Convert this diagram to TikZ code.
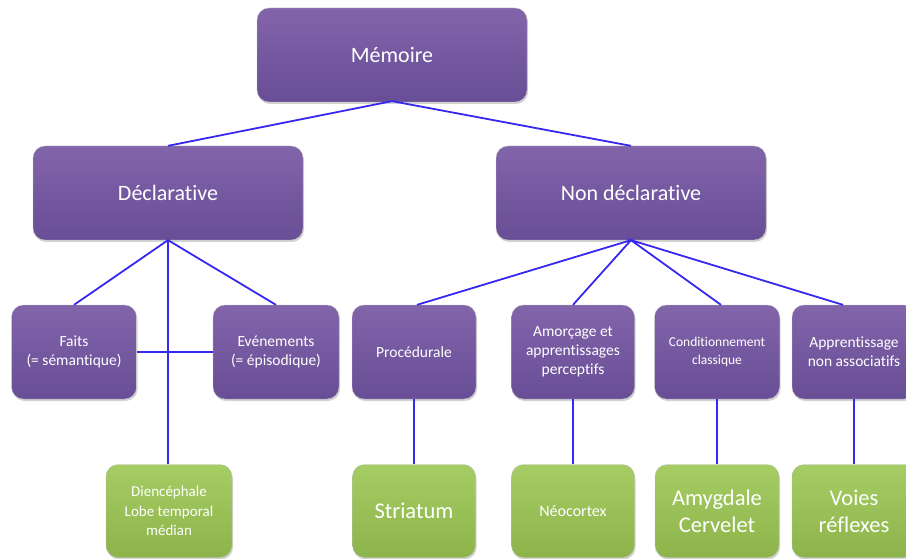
\documentclass[tikz,border=0pt]{standalone}
\usepackage{fontspec}
\setmainfont{Carlito}[Ligatures=NoCommon]
\usetikzlibrary{shadows}
\definecolor{ptop}{RGB}{130,100,170}
\definecolor{pbot}{RGB}{104,78,150}
\definecolor{gtop}{RGB}{165,205,100}
\definecolor{gbot}{RGB}{140,180,75}
\definecolor{lnk}{RGB}{55,40,240}
\tikzset{
  box/.style={rectangle, rounded corners=12pt, draw=black!25, line width=0.3pt,
    text=white, align=center, inner sep=2pt,
    drop shadow={opacity=0.35, shadow xshift=1pt, shadow yshift=-2pt}},
  pbox/.style={box, top color=ptop, bottom color=pbot},
  gbox/.style={box, top color=gtop, bottom color=gbot},
  big/.style={minimum width=270pt, minimum height=94pt, font=\fontsize{22}{26}\selectfont},
  small/.style={minimum height=94pt, font=\fontsize{15.5}{19}\selectfont},
  gsmall/.style={minimum height=93pt},
  link/.style={draw=lnk, line width=1.8pt},
}
\begin{document}
\begin{tikzpicture}[x=1pt,y=-1pt]
\useasboundingbox (0,0) rectangle (906,559);
% level 0
\node[pbox, big] (mem) at (392,55) {Mémoire};
% level 1
\node[pbox, big] (decl) at (168,193) {Déclarative};
\node[pbox, big] (nd) at (631,193) {Non déclarative};
% level 2
\node[pbox, small, minimum width=125pt] (faits) at (74,352) {Faits\\(= sémantique)};
\node[pbox, small, minimum width=126pt] (even) at (276,352) {Evénements\\(= épisodique)};
\node[pbox, small, minimum width=124pt] (proc) at (414,352) {Procédurale};
\node[pbox, small, minimum width=123pt] (amor) at (573,352) {Amorçage et\\apprentissages\\perceptifs};
\node[pbox, small, minimum width=125pt, font=\fontsize{13.5}{17.5}\selectfont] (cond) at (717,352) {Conditionnement\\classique};
\node[pbox, small, minimum width=124pt] (appr) at (854,352) {Apprentissage\\non associatifs};
% level 3
\node[gbox, gsmall, minimum width=126pt, font=\fontsize{15}{19.5}\selectfont] (dien) at (169,511) {Diencéphale\\Lobe temporal\\médian};
\node[gbox, gsmall, minimum width=123pt, font=\fontsize{22.5}{27}\selectfont] (stria) at (414,511) {Striatum};
\node[gbox, gsmall, minimum width=123pt, font=\fontsize{16}{19}\selectfont] (neo) at (573,511) {Néocortex};
\node[gbox, gsmall, minimum width=124pt, font=\fontsize{22.5}{27}\selectfont] (amyg) at (717,511) {Amygdale\\Cervelet};
\node[gbox, gsmall, minimum width=124pt, font=\fontsize{22.5}{27}\selectfont] (voies) at (854,511) {Voies\\réflexes};
% connectors
\draw[link] (decl.north) -- ([yshift=1pt]mem.south) -- (nd.north);
\draw[link] (faits.north) -- (decl.south) -- (even.north);
\draw[link] (decl.south) -- (decl.south |- dien.north);
\draw[link] (faits.east) -- (even.west);
\draw[link] ([xshift=3pt]proc.north) -- (nd.south) -- (amor.north);
\draw[link] ([xshift=4pt]cond.north) -- (nd.south) -- ([xshift=-11pt]appr.north);
\draw[link] (proc.south) -- (stria.north);
\draw[link] (amor.south) -- (neo.north);
\draw[link] (cond.south) -- (amyg.north);
\draw[link] (appr.south) -- (voies.north);
\end{tikzpicture}
\end{document}
